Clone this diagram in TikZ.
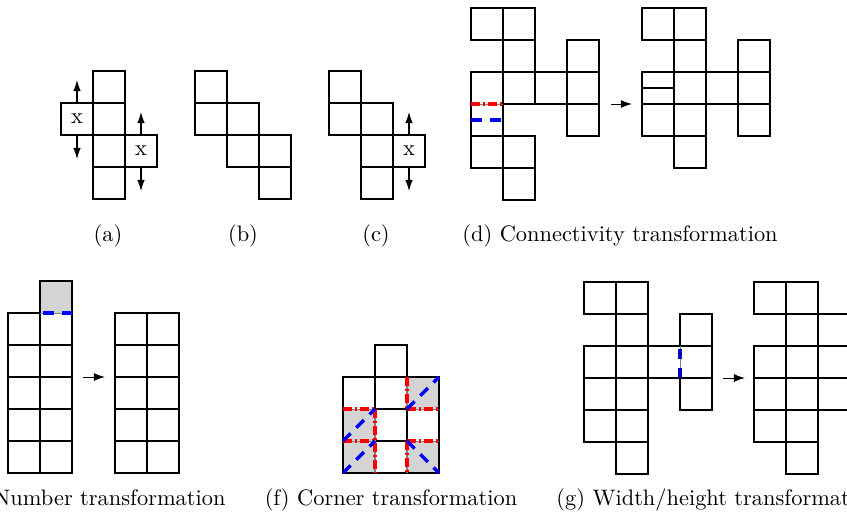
\documentclass[tikz,border=0pt]{standalone}
\usetikzlibrary{arrows.meta}
\definecolor{cellgray}{gray}{0.83}
\tikzset{
  gridline/.style={line width=0.9pt, line cap=rect, line join=miter},
  xcell/.style={draw, line width=0.9pt, minimum size=14.28pt, inner sep=0pt, font=\normalsize},
  movearrow/.style={-{Latex[length=5pt,width=3.4pt]}, line width=0.45pt},
  steparrow/.style={-{Latex[length=5pt,width=3.6pt]}, line width=0.45pt},
  redline/.style={red, line width=1.6pt, dash pattern=on 4pt off 1.2pt on 1.2pt off 1.2pt},
  blueline/.style={blue, line width=1.5pt, dash pattern=on 4.8pt off 3.6pt},
  faintline/.style={gray, line width=0.45pt},
  caption/.style={inner sep=0pt, anchor=base, font=\normalsize}
}
\newcommand\cel[2]{\draw[gridline] (#1,#2) rectangle ++(32,32);}
\begin{document}
\begin{tikzpicture}[x=0.4463pt,y=-0.4463pt]
\useasboundingbox (0,0) rectangle (847,521);
\clip (0,0) rectangle (847,521);

% ---------- (a)
\foreach \y in {71,103,135,167} {\cel{93}{\y}}
\node[xcell] (ax1) at (77,119) {x};
\node[xcell] (ax2) at (141,151) {x};
\draw[movearrow] (ax1.north) -- ++(0,-22);
\draw[movearrow] (ax1.south) -- ++(0,23);
\draw[movearrow] (ax2.north) -- ++(0,-22);
\draw[movearrow] (ax2.south) -- ++(0,23);
\node[caption] (capa) at (108,241) {(a)};

% ---------- (b)
\foreach \p/\q in {195/71,195/103,227/103,227/135,259/135,259/167} {\cel{\p}{\q}}
\node[caption] (capb) at (243,241) {(b)};

% ---------- (c)
\foreach \p/\q in {329/71,329/103,361/103,361/135,361/167} {\cel{\p}{\q}}
\node[xcell] (cx) at (409,151) {x};
\draw[movearrow] (cx.north) -- ++(0,-22);
\draw[movearrow] (cx.south) -- ++(0,23);
\node[caption] (capc) at (376,241) {(c)};

% ---------- (d) left
\foreach \p/\q in {471/8,503/8,503/40,567/40,503/72,535/72,567/72,567/104,471/136,503/136,503/168} {\cel{\p}{\q}}
\draw[gridline] (471,72) rectangle (503,136);
\draw[faintline] (471,104) -- (503,104);
\draw[redline] (471,104) -- (503,104);
\draw[blueline] (471,120) -- (503,120);
% (d) right
\foreach \p/\q in {642/8,674/8,674/40,738/40,642/72,674/72,706/72,738/72,642/104,674/104,738/104,674/136} {\cel{\p}{\q}}
\draw[gridline] (642,88) -- (674,88);
\coordinate (d1) at (611,104);
\coordinate (d2) at (632,104);
\draw[steparrow] (d1) -- (d2);
\node[caption, anchor=base west] (capd) at (462,241) {(d) Connectivity transformation};

% ---------- (e) left
\fill[cellgray] (40,281) rectangle (72,313);
\foreach \x in {8,40,72} {\draw[gridline] (\x,313) -- (\x,473);}
\foreach \y in {345,377,409,441,473} {\draw[gridline] (8,\y) -- (72,\y);}
\draw[gridline] (8,313) -- (40,313);
\draw[gridline] (40,313) -- (40,281) -- (72,281) -- (72,313);
\draw[faintline] (40,313) -- (72,313);
\draw[blueline] (43,313) -- (72,313);
% (e) right
\foreach \x in {115,147} {\foreach \y in {313,345,377,409,441} {\cel{\x}{\y}}}
\coordinate (e1) at (83,377);
\coordinate (e2) at (105,377);
\draw[steparrow] (e1) -- (e2);
\node[caption, anchor=base east] (cape) at (226,505) {(e) Number transformation};

% ---------- (f)
\fill[cellgray] (407,377) rectangle (439,409);
\fill[cellgray] (343,409) rectangle (375,473);
\fill[cellgray] (407,441) rectangle (439,473);
\draw[gridline] (375,377) -- (375,345) -- (407,345) -- (407,377);
\draw[gridline] (343,377) -- (439,377);
\draw[gridline] (343,473) -- (439,473);
\draw[gridline] (343,377) -- (343,473);
\draw[gridline] (439,377) -- (439,473);
\draw[gridline] (375,409) -- (407,409);
\draw[gridline] (375,441) -- (407,441);
\draw[gridline] (375,377) -- (375,409);
\draw[gridline] (407,409) -- (407,441);
\foreach \a/\b in {{343,409}/{375,409},{407,409}/{439,409},{343,441}/{375,441},{407,441}/{439,441},{375,409}/{375,473},{407,377}/{407,409},{407,441}/{407,473}}
  {\draw[faintline] (\a) -- (\b); \draw[redline] (\a) -- (\b);}
\draw[blueline] (407,409) -- (439,377);
\draw[blueline] (343,441) -- (375,409);
\draw[blueline] (343,473) -- (375,441);
\draw[blueline] (407,441) -- (439,473);
\node[caption] (capf) at (391,505) {(f) Corner transformation};

% ---------- (g) left
\foreach \p/\q in {584/282,616/282,616/314,680/314,584/346,616/346,584/378,616/378,680/378,584/410,616/410,616/442} {\cel{\p}{\q}}
\draw[gridline] (680,346) -- (648,346) -- (648,378) -- (680,378);
\draw[gridline] (712,346) -- (712,378);
\draw[faintline] (680,346) -- (680,378);
\draw[blueline, blue!75!black, dash pattern=on 4.5pt off 4pt] (680,349) -- (680,378);
% (g) right
\foreach \p/\q in {754/282,786/282,786/314,818/314,754/346,786/346,818/346,754/378,786/378,818/378,754/410,786/410,786/442} {\cel{\p}{\q}}
\coordinate (g1) at (723,378);
\coordinate (g2) at (745,378);
\draw[steparrow] (g1) -- (g2);
\node[caption, anchor=base west] (capg) at (556,505) {(g) Width/height transformation};
\end{tikzpicture}
\end{document}
